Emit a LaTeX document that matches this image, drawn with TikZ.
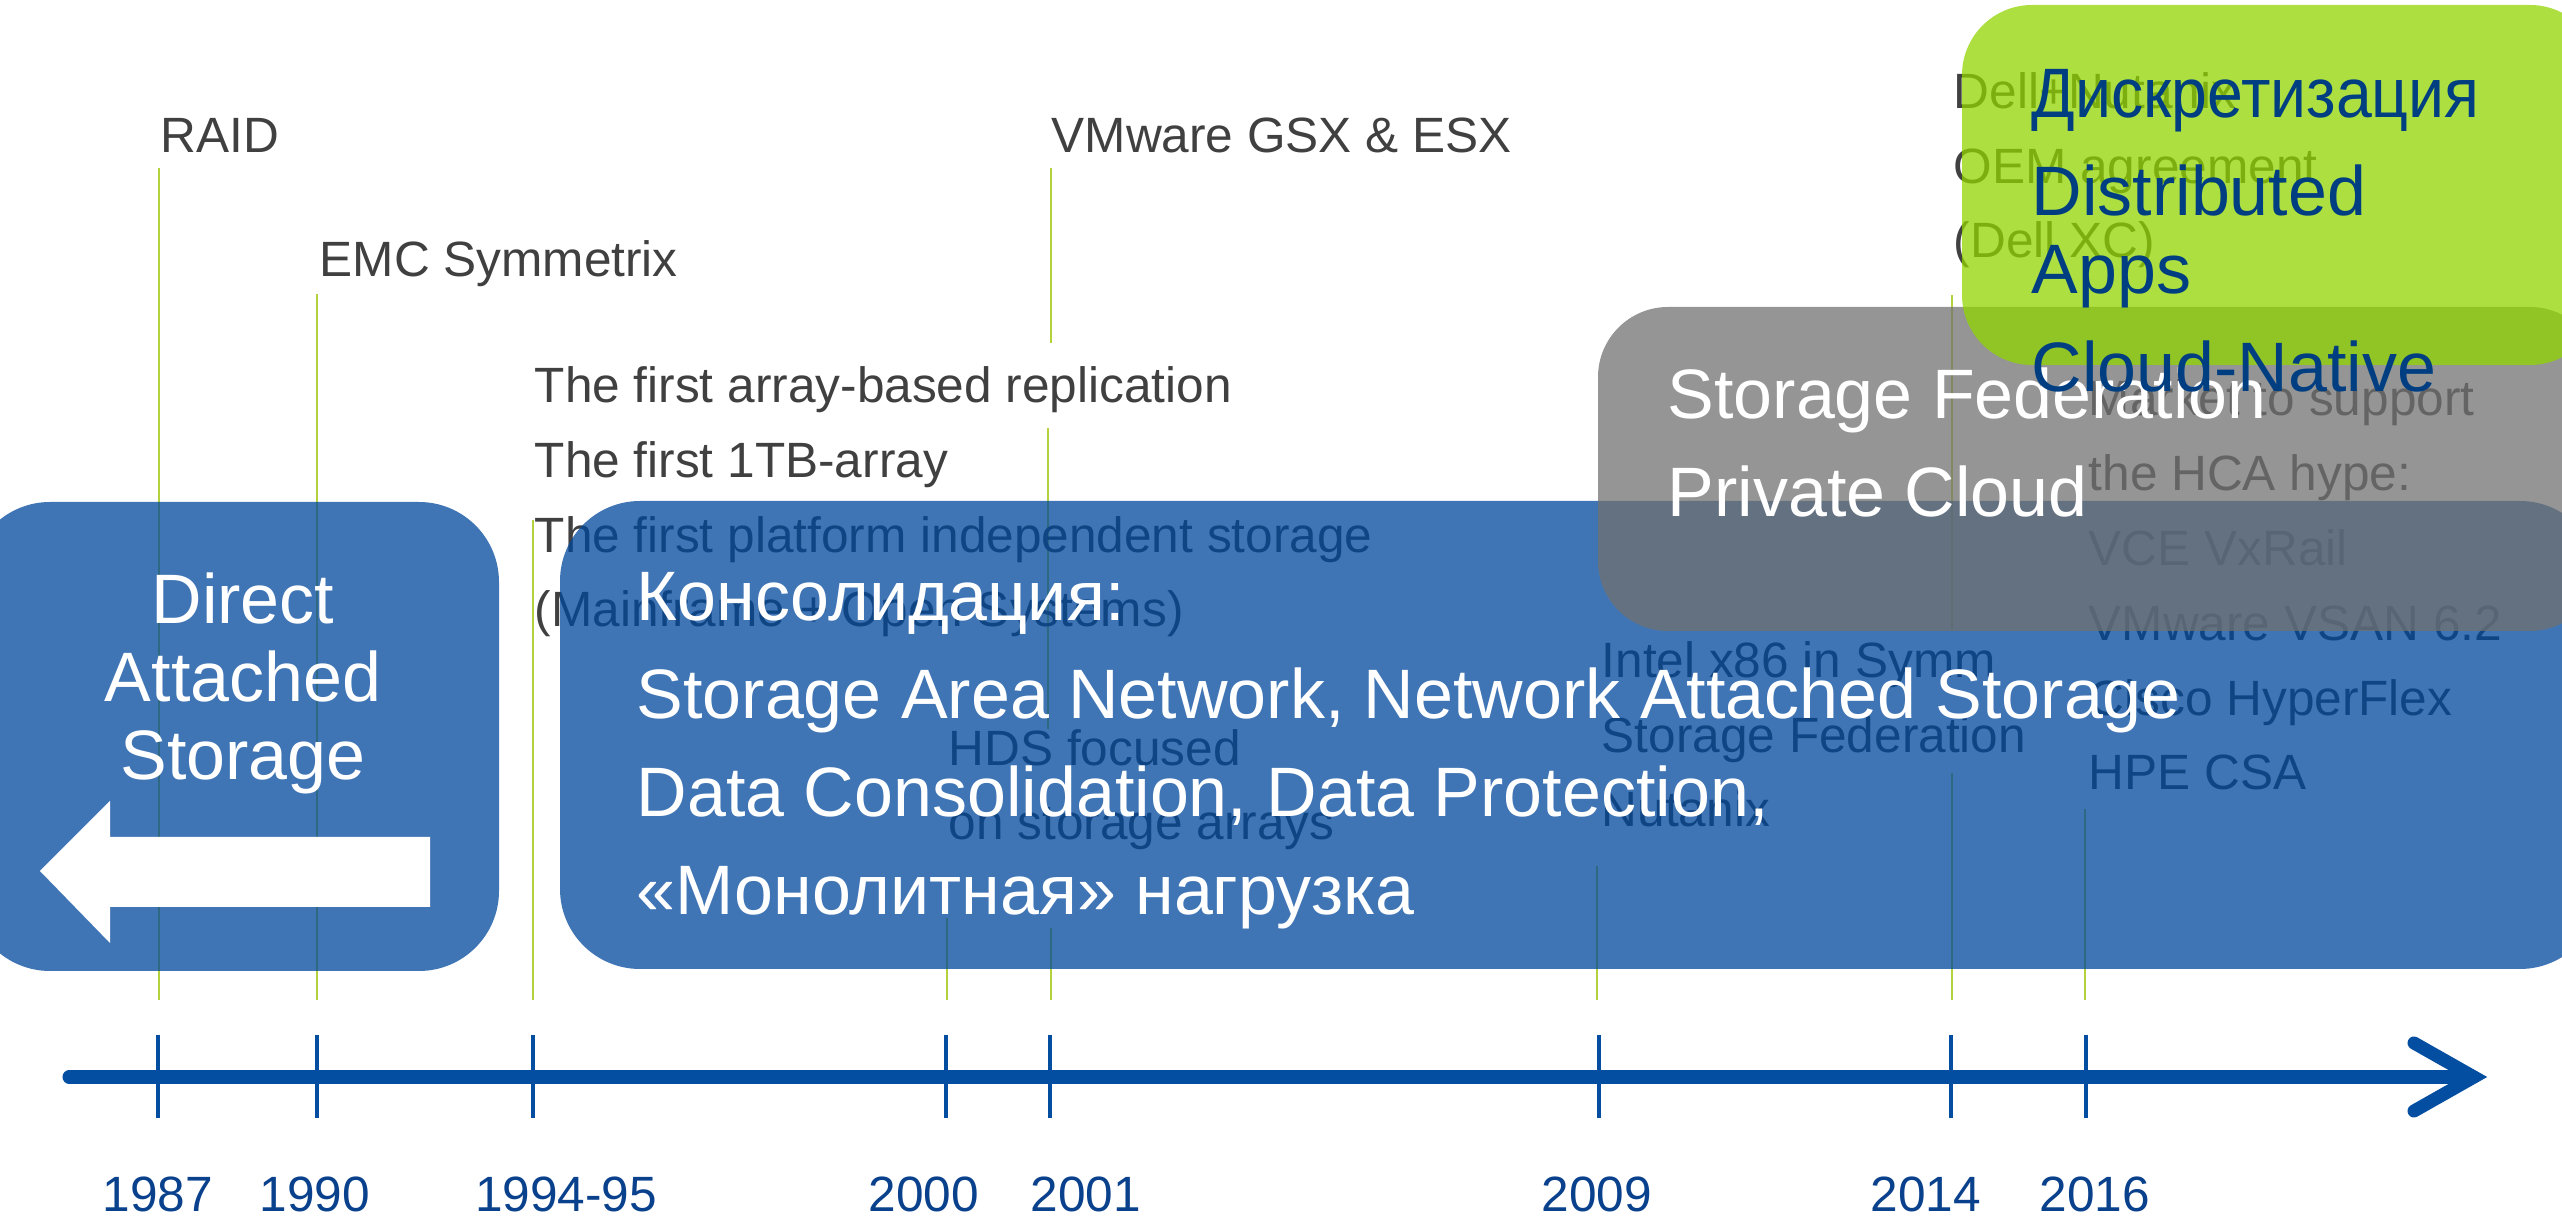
\documentclass[tikz,border=0pt]{standalone}
\usepackage{fontspec}
\setmainfont{Liberation Sans}
\usepackage{tikz}

\definecolor{boxblue}{RGB}{0,71,156}
\definecolor{boxgray}{RGB}{113,113,113}
\definecolor{boxgreen}{RGB}{145,212,0}
\definecolor{axisblue}{RGB}{4,78,162}
\definecolor{yearblue}{RGB}{10,65,140}
\definecolor{labelgray}{RGB}{64,64,64}
\definecolor{leadgreen}{RGB}{180,210,60}
\definecolor{greentext}{RGB}{0,62,130}

\begin{document}
\begin{tikzpicture}[x=0.01cm, y=-0.01cm,
  lead/.style={leadgreen, line width=0.6pt},
  tick/.style={axisblue, line width=1.1pt},
  lbl/.style={text=labelgray, font=\fontsize{14.1}{21.3}\selectfont, align=left, anchor=base west, inner sep=0},
  year/.style={text=yearblue, font=\fontsize{14.1}{17}\selectfont, anchor=base, inner sep=0},
  big/.style={text=white, font=\fontsize{19.9}{27.9}\selectfont, align=left, anchor=base west, inner sep=0}]
\useasboundingbox (0,0) rectangle (2562,1225);
\clip (0,0) rectangle (2562,1225);

% leaders
\draw [lead] (159,168) -- (159,1000);
\draw [lead] (317,294) -- (317,1000);
\draw [lead] (533,520) -- (533,1000);
\draw [lead] (947,918) -- (947,1000);
\draw [lead] (1051,168) -- (1051,343);
\draw [lead] (1048,428) -- (1048,729);
\draw [lead] (1051,928) -- (1051,1000);
\draw [lead] (1597,866) -- (1597,1000);
\draw [lead] (1952,295) -- (1952,630);
\draw [lead] (1952,773) -- (1952,1000);
\draw [lead] (2085,809) -- (2085,1000);

% labels (multi-line nodes sit on their last line)
\node [lbl] (raid) at (160,153) {RAID};
\node [lbl] (emc) at (319,277) {EMC Symmetrix};
\node [lbl] (first) at (534,627) {The first array-based replication\\The first 1TB-array\\The first platform independent storage\\(Mainframe + Open Systems)};
\node [lbl] (hds) at (948,840) {HDS focused\\on storage arrays};
\node [lbl] (vmw) at (1051,153) {VMware GSX \& ESX};
\node [lbl] (intel) at (1601,827) {Intel x86 in Symm\\Storage Federation\\Nutanix};
\node [lbl] (dell) at (1953,258) {Dell+Nutanix\\OEM agreement\\(Dell XC)};
\node [lbl] (hca) at (2088,790) {Market to support\\the HCA hype:\\VCE VxRail\\VMware VSAN 6.2\\Cisco HyperFlex\\HPE CSA};

% boxes
\fill [boxblue, opacity=0.75, rounded corners=0.8cm] (-30,502) rectangle (499,971);
\fill [boxblue, opacity=0.75, rounded corners=0.8cm] (560,501) rectangle (2600,969);
\fill [boxgray, opacity=0.75, rounded corners=0.7cm] (1598,307) rectangle (2600,631);
\fill [boxgreen, opacity=0.75, rounded corners=0.7cm] (1962,5) rectangle (2600,365);
\fill [white] (40,871) -- (110,801) -- (110,837) -- (430,837) -- (430,907) -- (110,907) -- (110,943) -- cycle;

\node [big, align=center, anchor=base, font=\fontsize{19.9}{22.2}\selectfont] (das) at (243,780) {Direct\\Attached\\Storage};
\node [big] (cons) at (636,915) {Консолидация:\\Storage Area Network, Network Attached Storage\\Data Consolidation, Data Protection,\\«Монолитная» нагрузка};
\node [big] (fed) at (1667,517) {Storage Federation\\Private Cloud};
\node [big, text=greentext, font=\fontsize{19.9}{22.2}\selectfont] (disc) at (2031,392) {{\addfontfeatures{FakeStretch=0.92}Дискретизация}\\[5.7pt]Distributed\\Apps\\[5.7pt]Cloud-Native};

% time axis
\coordinate (start) at (69,1077);
\coordinate (tip) at (2474,1077);
\draw [axisblue, line width=3.7pt, line cap=round] (start) -- (2460,1077);
\draw [axisblue, line width=3.7pt, line cap=round, line join=miter] (2414,1043) -- (tip) -- (2414,1111);
\draw [tick] (158,1035) -- (158,1118);
\draw [tick] (317,1035) -- (317,1118);
\draw [tick] (533,1035) -- (533,1118);
\draw [tick] (946,1035) -- (946,1118);
\draw [tick] (1050,1035) -- (1050,1118);
\draw [tick] (1599,1035) -- (1599,1118);
\draw [tick] (1951,1035) -- (1951,1118);
\draw [tick] (2086,1035) -- (2086,1118);

% years
\node [year] (y87) at (158,1212) {1987};
\node [year] (y90) at (315,1212) {1990};
\node [year] (y94) at (566,1212) {1994-95};
\node [year] (y00) at (924,1212) {2000};
\node [year] (y01) at (1086,1212) {2001};
\node [year] (y09) at (1597,1212) {2009};
\node [year] (y14) at (1926,1212) {2014};
\node [year] (y16) at (2095,1212) {2016};
\end{tikzpicture}
\end{document}
